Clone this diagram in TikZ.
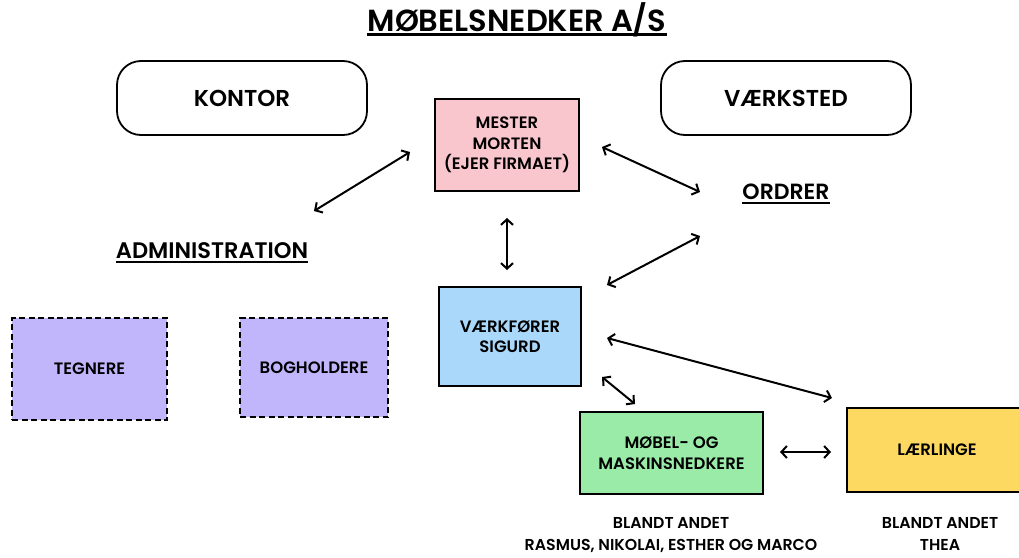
\documentclass[tikz,border=0pt]{standalone}
\usepackage{fontspec}
\setmainfont{Poppins}[BoldFont={Poppins SemiBold}]
\usetikzlibrary{arrows.meta}
\definecolor{mesterrosa}{HTML}{F9C6CD}
\definecolor{foererblaa}{HTML}{AAD8FA}
\definecolor{kontorlilla}{HTML}{C1B6FC}
\definecolor{snedkergroen}{HTML}{99EBA7}
\definecolor{laerlinggul}{HTML}{FDD961}
\tikzset{
	afdeling/.style={draw, line width=1.8pt, rounded corners=24pt, minimum width=250pt, minimum height=74pt, font=\bfseries\fontsize{23}{27}\selectfont},
	boks/.style={draw, line width=1.8pt, inner sep=0pt, align=center, font=\bfseries\fontsize{16.5}{20.5}\selectfont},
	stiplet/.style={boks, dash pattern=on 6pt off 3.5pt, line width=2.2pt},
	overskrift/.style={inner sep=0pt, anchor=base, font=\bfseries\fontsize{22.5}{26}\selectfont},
	navne/.style={align=center, font=\bfseries\fontsize{15.8}{22}\selectfont},
	pil/.style={{Straight Barb[length=5.5pt,width=12pt]}-{Straight Barb[length=5.5pt,width=12pt]}, line width=2pt}
}
\begin{document}
\begin{tikzpicture}[x=1pt, y=-1pt]
			%%%%% START %%%%%
			\useasboundingbox (0, 0) rectangle (1019, 557);
			
			\node[overskrift, font=\bfseries\fontsize{30.5}{33}\selectfont] (titel) at (517, 31) {MØBELSNEDKER A/S};
			\draw[line width=2.6pt] ([yshift=-3.5pt]titel.base west) -- ([yshift=-3.5pt]titel.base east);
			
			\node[afdeling] (kontor) at (242, 98) {KONTOR};
			\node[afdeling] (vaerksted) at (786, 98) {VÆRKSTED};
			
			\node[overskrift] (admin) at (212, 258) {ADMINISTRATION};
			\draw[line width=2pt] ([yshift=-4pt]admin.base west) -- ([yshift=-4pt]admin.base east);
			\node[overskrift, font=\bfseries\fontsize{22}{26}\selectfont] (ordrer) at (786, 199) {ORDRER};
			\draw[line width=2pt] ([yshift=-3.5pt]ordrer.base west) -- ([yshift=-3.5pt]ordrer.base east);
			
			\node[boks, fill=mesterrosa, minimum width=144pt, minimum height=92pt] (mester) at (507, 145) {MESTER\\MORTEN\\(EJER FIRMAET)};
			\node[boks, fill=foererblaa, minimum width=142pt, minimum height=99pt] (foerer) at (510, 336.5) {VÆRKFØRER\\SIGURD};
			
			\node[stiplet, fill=kontorlilla, minimum width=155pt, minimum height=102pt] (tegnere) at (89.5, 369) {TEGNERE};
			\node[stiplet, fill=kontorlilla, minimum width=148pt, minimum height=99pt] (bogholdere) at (314, 367.5) {BOGHOLDERE};
			
			\node[boks, fill=snedkergroen, minimum width=183pt, minimum height=82pt] (snedkere) at (671.5, 453) {MØBEL- OG\\MASKINSNEDKERE};
			\node[boks, fill=laerlinggul, minimum width=188pt, minimum height=84pt, text width=180pt] (laerlinge) at (941, 450) {\hspace*{-8pt}LÆRLINGE};
			
			\node[navne] (snedkernavne) at (671, 535) {BLANDT ANDET\\RASMUS, NIKOLAI, ESTHER OG MARCO};
			\node[navne] (laerlingnavne) at (940, 534) {BLANDT ANDET\\THEA};
			
			% pilenes endepunkter
			\coordinate (mesterV) at (410, 152);
			\coordinate (adminO) at (314, 211);
			\coordinate (mesterH) at (602, 147);
			\coordinate (ordrerV) at (700, 192);
			\coordinate (mesterN) at (507, 218);
			\coordinate (foererN) at (507, 270);
			\coordinate (foererO) at (607, 285);
			\coordinate (ordrerN) at (700, 236);
			\coordinate (foererH) at (607, 338);
			\coordinate (laerlingeO) at (832, 398);
			\coordinate (foererU) at (602, 377);
			\coordinate (snedkereO) at (635, 404);
			\coordinate (snedkereH) at (780, 452);
			\coordinate (laerlingeV) at (831, 452);
			
			\draw[pil] (mesterV) -- (adminO);
			\draw[pil] (mesterH) -- (ordrerV);
			\draw[pil] (mesterN) -- (foererN);
			\draw[pil] (foererO) -- (ordrerN);
			\draw[pil] (foererH) -- (laerlingeO);
			\draw[pil] (foererU) -- (snedkereO);
			\draw[pil] (snedkereH) -- (laerlingeV);
			
			%%%%% END %%%%%
\end{tikzpicture}
\end{document}
